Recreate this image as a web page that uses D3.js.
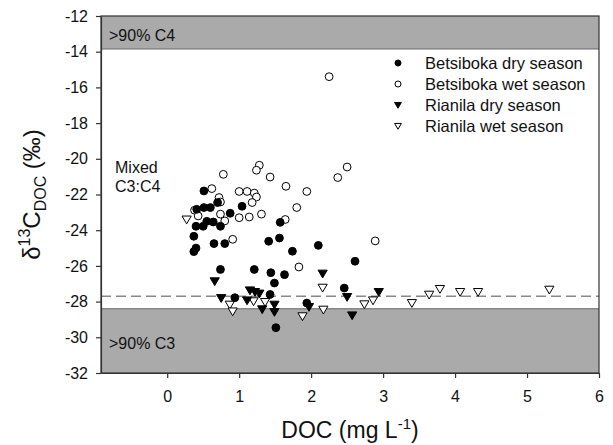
<!DOCTYPE html>
<html>
<head>
<meta charset="utf-8">
<script src="https://cdn.jsdelivr.net/npm/d3@7"></script>
<style>
  body { margin: 0; background: #fff; }
  svg { display: block; font-family: "Liberation Sans", Arial, sans-serif; }
</style>
</head>
<body>
<svg id="chart" width="613" height="445"></svg>
<script>
// ---- data ----
const betsibokaDry = [
  [0.51,-21.8],[0.41,-22.83],[0.51,-22.73],[0.60,-22.73],[0.70,-22.45],[1.04,-22.66],
  [0.875,-23.05],[0.40,-23.78],[0.50,-23.78],[0.55,-23.5],[0.64,-23.54],[0.74,-23.78],
  [0.37,-24.34],[0.37,-25.2],[0.40,-25.0],[0.65,-24.75],[0.80,-24.75],[0.74,-26.2],
  [1.21,-26.2],[0.94,-27.78],[1.41,-24.62],[1.56,-24.44],[2.10,-24.85],[1.74,-25.18],
  [2.61,-25.74],[1.44,-26.38],[1.63,-26.49],[1.49,-26.96],[2.46,-27.24],[1.94,-28.08],
  [1.51,-29.46],[1.43,-27.6],[1.57,-23.56]
];
const betsibokaWet = [
  [2.25,-15.4],[0.78,-20.87],[0.62,-21.67],[1.0,-21.83],[1.11,-21.83],[1.21,-21.92],
  [1.24,-22.14],[1.28,-20.36],[1.24,-20.64],[1.43,-21.02],[2.50,-20.46],[2.37,-21.05],
  [1.65,-21.54],[1.94,-21.83],[0.72,-22.17],[0.74,-22.42],[1.18,-22.45],[1.80,-22.73],
  [0.38,-22.88],[0.43,-23.2],[0.74,-23.1],[1.0,-23.3],[1.14,-23.26],[1.31,-23.1],
  [0.80,-23.48],[1.64,-23.4],[0.91,-24.51],[2.89,-24.6],[1.83,-26.06]
];
const rianilaDry = [
  [0.66,-26.86],[0.75,-27.8],[1.11,-27.93],[1.15,-27.37],[1.22,-27.46],[1.28,-27.55],
  [1.32,-28.43],[1.49,-28.17],[1.49,-28.58],[1.97,-28.3],[2.16,-26.43],[2.50,-27.74],
  [2.94,-27.46],[2.57,-28.77]
];
const rianilaWet = [
  [0.27,-23.4],[0.87,-28.17],[0.91,-28.55],[1.20,-27.98],[1.36,-28.02],[2.16,-27.22],
  [2.17,-28.45],[1.88,-28.82],[2.86,-27.93],[2.74,-28.15],[3.40,-28.08],[3.64,-27.61],
  [3.79,-27.29],[4.07,-27.46],[4.32,-27.46],[5.31,-27.33]
];
const xTicks = [0,1,2,3,4,5,6];
const yTicks = [-12,-14,-16,-18,-20,-22,-24,-26,-28,-30,-32];
const c4Band = [-12, -13.85];
const c3Band = [-28.4, -32];
const thresholdLine = -27.7;
const seriesNames = ["Betsiboka dry season","Betsiboka wet season","Rianila dry season","Rianila wet season"];

// ---- layout ----
const svg = d3.select("#chart");
const m = {left: 101, right: 599, top: 16, bottom: 373};
const x = d3.scaleLinear().domain([-0.92, 6]).range([m.left, m.right]);
const y = d3.scaleLinear().domain([-32, -12]).range([m.bottom, m.top]);
const FS = 16;

// bands
svg.append("rect").attr("x", m.left).attr("width", m.right - m.left)
  .attr("y", y(c4Band[0])).attr("height", y(c4Band[1]) - y(c4Band[0]))
  .attr("fill", "#aaaaaa");
svg.append("rect").attr("x", m.left).attr("width", m.right - m.left)
  .attr("y", y(c3Band[0])).attr("height", y(c3Band[1]) - y(c3Band[0]))
  .attr("fill", "#aaaaaa");
[c4Band[1], c3Band[0]].forEach(v => {
  svg.append("line").attr("x1", m.left).attr("x2", m.right)
    .attr("y1", y(v)).attr("y2", y(v)).attr("stroke", "#666").attr("stroke-width", 1.2);
});
// dashed line
svg.append("line").attr("x1", m.left).attr("x2", m.right)
  .attr("y1", y(thresholdLine)).attr("y2", y(thresholdLine))
  .attr("stroke", "#888").attr("stroke-width", 1.3).attr("stroke-dasharray", "10,5");

// frame
svg.append("rect").attr("x", m.left).attr("y", m.top)
  .attr("width", m.right - m.left).attr("height", m.bottom - m.top)
  .attr("fill", "none").attr("stroke", "#333").attr("stroke-width", 1.2);

// axes
const xAxis = d3.axisBottom(x).tickValues(xTicks).tickSize(5).tickSizeOuter(0).tickPadding(13)
  .tickFormat(d3.format("d"));
const gx = svg.append("g").attr("transform", `translate(0,${m.bottom})`).call(xAxis);
const yAxis = d3.axisLeft(y).tickValues(yTicks).tickSize(5).tickSizeOuter(0).tickPadding(8)
  .tickFormat(d => String(d));
const gy = svg.append("g").attr("transform", `translate(${m.left},0)`).call(yAxis);
[gx, gy].forEach(g => {
  g.select(".domain").attr("stroke", "#333").attr("stroke-width", 1.2);
  g.selectAll(".tick line").attr("stroke", "#333").attr("stroke-width", 1.2);
  g.selectAll(".tick text").attr("font-size", FS).attr("fill", "#111")
    .attr("font-family", "Liberation Sans, Arial, sans-serif");
});

// band labels
svg.append("text").attr("x", 109).attr("y", 41).attr("font-size", FS).attr("fill", "#111").text(">90% C4");
svg.append("text").attr("x", 109).attr("y", 349).attr("font-size", FS).attr("fill", "#111").text(">90% C3");
svg.append("text").attr("x", 115).attr("y", 173).attr("font-size", FS).attr("fill", "#111").text("Mixed");
svg.append("text").attr("x", 115).attr("y", 192).attr("font-size", FS).attr("fill", "#111").text("C3:C4");

// markers
const tri = s => `M${-s},${-s*0.75}L${s},${-s*0.75}L0,${s*0.95}Z`;
const plot = svg.append("g");
function circles(data, fill) {
  plot.selectAll(null).data(data).enter().append("circle")
    .attr("cx", d => x(d[0])).attr("cy", d => y(d[1])).attr("r", 3.9)
    .attr("fill", fill).attr("stroke", "#000").attr("stroke-width", 1);
}
function triangles(data, fill) {
  plot.selectAll(null).data(data).enter().append("path")
    .attr("d", tri(4.6))
    .attr("transform", d => `translate(${x(d[0])},${y(d[1])})`)
    .attr("fill", fill).attr("stroke", "#000").attr("stroke-width", 1);
}
circles(betsibokaWet, "#fff");
triangles(rianilaWet, "#fff");
circles(betsibokaDry, "#000");
triangles(rianilaDry, "#000");

// legend
const leg = svg.append("g");
const legY = [63, 84, 105, 126];
const legFill = ["#000", "#fff", "#000", "#fff"];
seriesNames.forEach((name, i) => {
  if (i < 2) {
    leg.append("circle").attr("cx", 398).attr("cy", legY[i]).attr("r", 3)
      .attr("fill", legFill[i]).attr("stroke", "#000").attr("stroke-width", 1);
  } else {
    leg.append("path").attr("d", tri(3.4)).attr("transform", `translate(398,${legY[i]})`)
      .attr("fill", legFill[i]).attr("stroke", "#000").attr("stroke-width", 1);
  }
  leg.append("text").attr("x", 425).attr("y", legY[i] + 6).attr("font-size", 16.5)
    .attr("fill", "#111").text(name);
});

// axis titles
const xt = svg.append("text").attr("x", (m.left + m.right) / 2).attr("y", 438)
  .attr("text-anchor", "middle").attr("font-size", 23).attr("fill", "#111");
xt.append("tspan").text("DOC (mg L");
xt.append("tspan").attr("font-size", 15).attr("dy", -9).text("-1");
xt.append("tspan").attr("dy", 9).text(")");

const yt = svg.append("text")
  .attr("transform", `translate(40,${(m.top + m.bottom) / 2}) rotate(-90)`)
  .attr("text-anchor", "middle").attr("font-size", 24).attr("fill", "#111");
yt.append("tspan").text("δ");
yt.append("tspan").attr("font-size", 16).attr("dy", -10).text("13");
yt.append("tspan").attr("dy", 10).text("C");
yt.append("tspan").attr("font-size", 16).attr("dy", 6).text("DOC");
yt.append("tspan").attr("dy", -6).text(" (‰)");
</script>
</body>
</html>
